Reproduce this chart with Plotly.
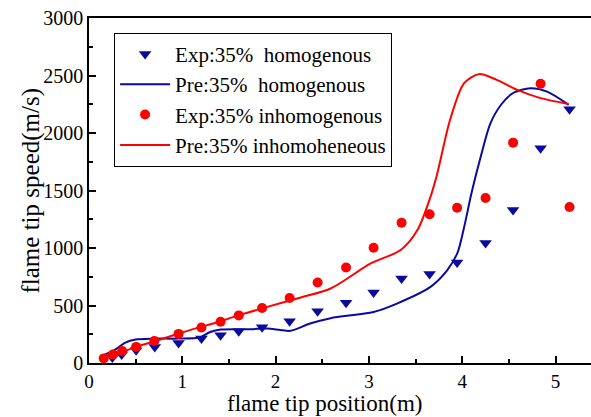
import plotly.graph_objects as go

# Experimental data: flame tip position (m) vs flame tip speed (m/s)
exp_homo_x = [0.25, 0.35, 0.505, 0.705, 0.96, 1.205, 1.41, 1.605, 1.855, 2.15,
              2.45, 2.755, 3.05, 3.35, 3.65, 3.945, 4.25, 4.545, 4.84, 5.15]
exp_homo_y = [47, 73, 111, 139, 174, 212, 241, 276, 310, 363,
              450, 523, 613, 735, 775, 875, 1043, 1330, 1868, 2207]

exp_inhomo_x = [0.158, 0.258, 0.355, 0.505, 0.70, 0.96, 1.205, 1.41, 1.605, 1.855,
                2.15, 2.45, 2.755, 3.05, 3.35, 3.65, 3.945, 4.25, 4.545, 4.84, 5.15]
exp_inhomo_y = [40, 75, 105, 140, 192, 253, 308, 358, 414, 478,
                565, 700, 831, 1002, 1220, 1293, 1350, 1435, 1916, 2428, 1356]

# Predicted curves
pre_homo_x = [0.11, 0.28, 0.39, 0.50, 0.68, 0.96, 1.18, 1.30, 1.41, 1.73, 1.91,
              2.05, 2.16, 2.37, 2.59, 3.05, 3.30, 3.66, 3.84, 3.95, 4.02, 4.10,
              4.20, 4.30, 4.42, 4.55, 4.73, 4.91, 5.14]
pre_homo_y = [52, 117, 178, 204, 212, 212, 221, 270, 291, 294, 300,
              287, 280, 343, 390, 444, 517, 662, 808, 960, 1180, 1480,
              1800, 2080, 2250, 2350, 2390, 2360, 2245]

pre_inhomo_x = [0.14, 0.32, 0.50, 0.68, 0.96, 1.18, 1.36, 1.55, 1.91, 2.27, 2.59,
                3.02, 3.34, 3.52, 3.66, 3.73, 3.87, 4.02, 4.18, 4.37, 4.59, 4.84, 5.14]
pre_inhomo_y = [40, 82, 140, 183, 256, 310, 350, 401, 488, 570, 648,
                866, 982, 1156, 1446, 1640, 2115, 2434, 2512, 2462, 2375, 2303, 2253]

BLUE = "#0a0a9e"
RED = "#ff0000"
FONT = "Liberation Serif"

fig = go.Figure()
fig.add_trace(go.Scatter(
    x=exp_homo_x, y=exp_homo_y, mode="markers",
    name="Exp:35%\u00a0 homogenous",
    marker=dict(symbol="triangle-down", size=11, color=BLUE)))
fig.add_trace(go.Scatter(
    x=pre_homo_x, y=pre_homo_y, mode="lines",
    name="Pre:35%\u00a0 homogenous",
    line=dict(color=BLUE, width=2, shape="spline", smoothing=0.8)))
fig.add_trace(go.Scatter(
    x=exp_inhomo_x, y=exp_inhomo_y, mode="markers",
    name="Exp:35% inhomogenous",
    marker=dict(symbol="circle", size=10, color=RED)))
fig.add_trace(go.Scatter(
    x=pre_inhomo_x, y=pre_inhomo_y, mode="lines",
    name="Pre:35% inhomoheneous",
    line=dict(color=RED, width=2, shape="spline", smoothing=0.8)))

axis_common = dict(
    showgrid=False, zeroline=False, showline=True, linecolor="black",
    linewidth=1.5, ticks="inside", ticklen=7, tickwidth=1.5, tickcolor="black",
)

fig.update_xaxes(
    range=[0, 5.38], dtick=1, tick0=0, mirror=True,
    tickfont=dict(family=FONT, size=19, color="black"),
    minor=dict(ticks="inside", ticklen=4, tickwidth=1.5, dtick=0.5, tickcolor="black"),
    **axis_common)
fig.update_yaxes(
    range=[0, 3000], dtick=500, tick0=0, mirror=False,
    tickfont=dict(family=FONT, size=20, color="black"),
    minor=dict(ticks="inside", ticklen=4, tickwidth=1.5, dtick=250, tickcolor="black"),
    **axis_common)

fig.update_layout(
    width=591, height=417,
    margin=dict(l=89, r=0, t=18, b=54),
    plot_bgcolor="white", paper_bgcolor="white",
    font=dict(family=FONT, color="black"),
    legend=dict(
        x=0.05, y=0.957, xanchor="left", yanchor="top",
        bgcolor="white", bordercolor="black", borderwidth=1,
        font=dict(family=FONT, size=21, color="black"),
        itemwidth=50,
    ),
)

# Axis titles placed in pixel terms relative to the plot area
fig.add_annotation(text="flame tip position(m)", xref="paper", yref="paper",
                   x=(324 - 89) / 502, y=-(404 - 363) / 345,
                   xanchor="center", yanchor="middle", showarrow=False,
                   borderpad=0,
                   font=dict(family=FONT, size=23, color="black"))
fig.add_annotation(text="flame tip speed(m/s)", xref="paper", yref="paper",
                   x=-(89 - 30) / 502, y=0.5, textangle=-90,
                   xanchor="center", yanchor="middle", showarrow=False,
                   font=dict(family=FONT, size=25, color="black"))

fig.write_html("out.html")
